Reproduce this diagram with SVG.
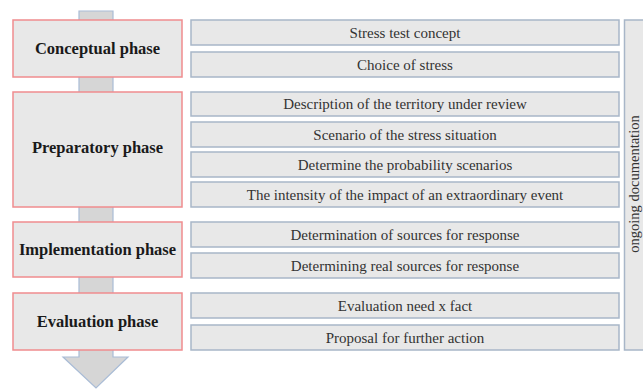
<svg xmlns="http://www.w3.org/2000/svg" width="643" height="389" viewBox="0 0 643 389">
<style>
.phase{fill:#e8e8e8;stroke:#f08c8e;stroke-width:1.5}
.row{fill:#e8e8e8;stroke:#a8b6c8;stroke-width:1.5}
.pt{font-family:"Liberation Serif",serif;font-weight:bold;font-size:16.5px;fill:#1a1a1a;text-anchor:middle}
.rt{font-family:"Liberation Serif",serif;font-size:15px;fill:#333;text-anchor:middle}
.arrow{fill:#d6d6d6;stroke:#a9bcd6;stroke-width:1.2}
</style>
<rect width="643" height="389" fill="#ffffff"/>
<g id="connectors">
<polygon class="arrow" points="79,11 113,11 113,357 128,357 96,388 63,357 79,357"/>
</g>
<g id="conceptual-phase"><rect class="phase" x="13" y="20" width="169" height="57"/><text class="pt" x="97.5" y="54">Conceptual phase</text></g>
<g id="preparatory-phase"><rect class="phase" x="13" y="92" width="169" height="115"/><text class="pt" x="97.5" y="153">Preparatory phase</text></g>
<g id="implementation-phase"><rect class="phase" x="13" y="222" width="169" height="55"/><text class="pt" x="97.5" y="255">Implementation phase</text></g>
<g id="evaluation-phase"><rect class="phase" x="13" y="293" width="169" height="57"/><text class="pt" x="97.5" y="327">Evaluation phase</text></g>

<g id="stress-test-concept"><rect class="row" x="191" y="20" width="428" height="25"/><text class="rt" x="405" y="37.5">Stress test concept</text></g>
<g id="choice-of-stress"><rect class="row" x="191" y="52" width="428" height="25"/><text class="rt" x="405" y="69.5">Choice of stress</text></g>
<g id="description-territory"><rect class="row" x="191" y="92" width="428" height="24"/><text class="rt" x="405" y="109">Description of the territory under review</text></g>
<g id="scenario-stress"><rect class="row" x="191" y="122" width="428" height="25"/><text class="rt" x="405" y="139.5">Scenario of the stress situation</text></g>
<g id="probability-scenarios"><rect class="row" x="191" y="152" width="428" height="25"/><text class="rt" x="405" y="169.5">Determine the probability scenarios</text></g>
<g id="intensity-impact"><rect class="row" x="191" y="182" width="428" height="25"/><text class="rt" x="405" y="199.5">The intensity of the impact of an extraordinary event</text></g>
<g id="sources-response"><rect class="row" x="191" y="222" width="428" height="25"/><text class="rt" x="405" y="239.5">Determination of sources for response</text></g>
<g id="real-sources-response"><rect class="row" x="191" y="253" width="428" height="25"/><text class="rt" x="405" y="270.5">Determining real sources for response</text></g>
<g id="evaluation-need"><rect class="row" x="191" y="293" width="428" height="25"/><text class="rt" x="405" y="310.5">Evaluation need x fact</text></g>
<g id="further-action"><rect class="row" x="191" y="325" width="428" height="25"/><text class="rt" x="405" y="342.5">Proposal for further action</text></g>

<g id="ongoing-documentation"><rect class="row" x="624.5" y="20" width="30" height="330"/><text class="rt" transform="translate(639,184) rotate(-90)" x="0" y="0" style="font-size:14.5px">ongoing documentation</text></g>
</svg>
